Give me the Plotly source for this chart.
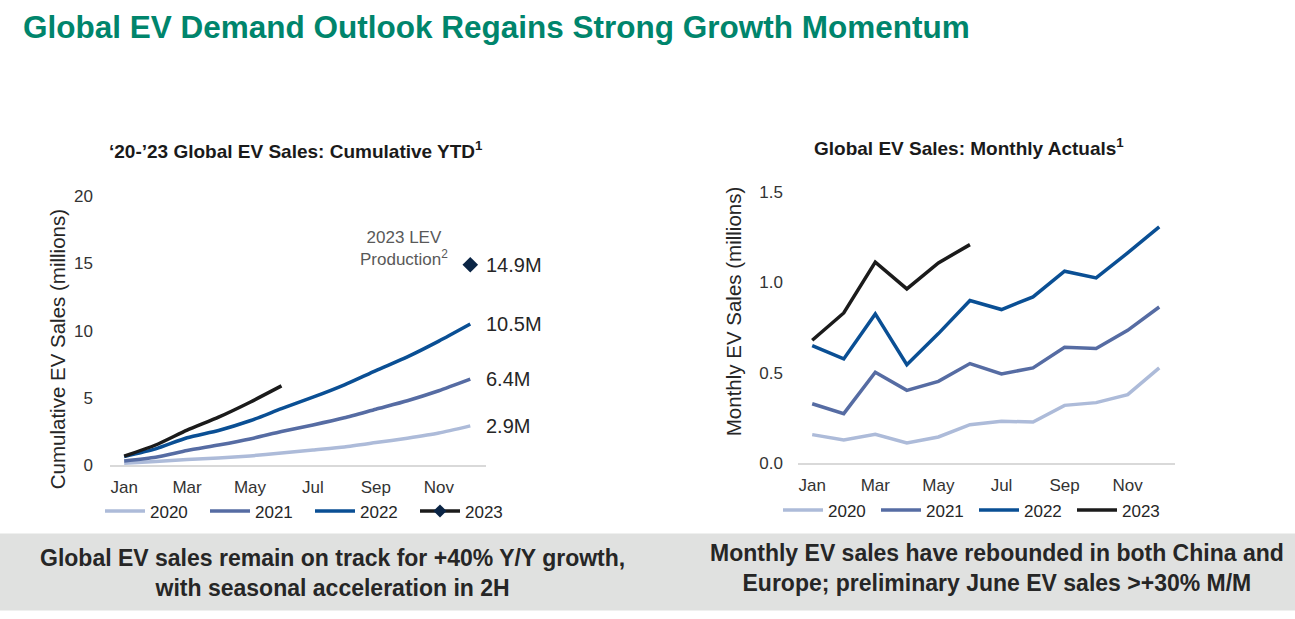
import plotly.graph_objects as go

MONTHS = ["Jan", "Feb", "Mar", "Apr", "May", "Jun",
          "Jul", "Aug", "Sep", "Oct", "Nov", "Dec"]
TICK_MONTHS = ["Jan", "Mar", "May", "Jul", "Sep", "Nov"]
YEARS = ["2020", "2021", "2022", "2023"]

# cumulative YTD sales, millions
CUM_2020 = [0.16, 0.28, 0.44, 0.55, 0.70, 0.91, 1.14, 1.37, 1.69, 2.02, 2.40, 2.93]
CUM_2021 = [0.33, 0.60, 1.10, 1.51, 1.96, 2.51, 3.00, 3.53, 4.17, 4.80, 5.54, 6.40]
CUM_2022 = [0.65, 1.22, 2.05, 2.59, 3.31, 4.21, 5.06, 5.98, 7.04, 8.06, 9.23, 10.5]
CUM_2023 = [0.68, 1.51, 2.62, 3.58, 4.69, 5.90]
LEV_2023 = 14.9  # 2023 LEV production, Dec

# monthly actuals, millions
MON_2020 = [0.157, 0.127, 0.159, 0.111, 0.144, 0.212, 0.231, 0.227, 0.319, 0.334, 0.378, 0.526]
MON_2021 = [0.328, 0.273, 0.502, 0.402, 0.452, 0.550, 0.493, 0.526, 0.640, 0.633, 0.734, 0.863]
MON_2022 = [0.649, 0.576, 0.825, 0.544, 0.716, 0.899, 0.849, 0.919, 1.061, 1.024, 1.162, 1.306]
MON_2023 = [0.679, 0.830, 1.111, 0.963, 1.107, 1.208]

COLORS = ["#adbbd9", "#566ca3", "#0a4f94", "#1b1b1b"]
DIAMOND = "#0b2545"
FONT = "Liberation Sans, Arial, sans-serif"
DARK = "#262626"
W, H = 1295, 619
# the page ends up drawn a little squeezed vertically; screen y = Y0 + SY * layout y
Y0, SY = 8, 0.9686


def px(x):
    return x / W


def py(y):
    return 1 - (y - Y0) / (SY * H)


fig = go.Figure()

# ---- left: cumulative ----------------------------------------------------
for year, vals, col in zip(YEARS, [CUM_2020, CUM_2021, CUM_2022, CUM_2023], COLORS):
    fig.add_trace(go.Scatter(
        x=MONTHS[:len(vals)], y=vals, mode="lines", name=year,
        line=dict(color=col, width=3.5, shape="spline", smoothing=0.6),
        showlegend=(year != "2023"), legend="legend", xaxis="x", yaxis="y"))
fig.add_trace(go.Scatter(
    x=[None], y=[None], mode="lines+markers", name="2023",
    line=dict(color=COLORS[3], width=3.5),
    marker=dict(symbol="diamond", size=10, color=DIAMOND),
    legend="legend", xaxis="x", yaxis="y"))
fig.add_trace(go.Scatter(
    x=["Dec"], y=[LEV_2023], mode="markers", showlegend=False,
    marker=dict(symbol="diamond", size=12, color=DIAMOND),
    xaxis="x", yaxis="y"))

# ---- right: monthly ------------------------------------------------------
for year, vals, col in zip(YEARS, [MON_2020, MON_2021, MON_2022, MON_2023], COLORS):
    fig.add_trace(go.Scatter(
        x=MONTHS[:len(vals)], y=vals, mode="lines", name=year,
        line=dict(color=col, width=3.5),
        legend="legend2", xaxis="x2", yaxis="y2"))

axis_font = dict(family=FONT, size=17, color="#333333")
xcommon = dict(type="category", categoryorder="array", categoryarray=MONTHS,
               tickmode="array", tickvals=TICK_MONTHS, range=[-0.45, 11.5],
               showgrid=False, zeroline=False, showline=True, linecolor="#d9d9d9",
               linewidth=1.5, ticks="", tickfont=axis_font, ticklabelstandoff=6,
               fixedrange=True)
ycommon = dict(showgrid=False, zeroline=False, showline=False, ticks="",
               tickfont=axis_font, fixedrange=True)
legend_common = dict(orientation="h", xanchor="left", yanchor="middle",
                     entrywidthmode="pixels", itemwidth=40,
                     bgcolor="rgba(0,0,0,0)", traceorder="normal",
                     font=dict(family=FONT, size=17, color=DARK))

fig.update_layout(
    width=W, height=H, margin=dict(l=0, r=0, t=0, b=0),
    paper_bgcolor="white", plot_bgcolor="white",
    font=dict(family=FONT, color=DARK),
    xaxis=dict(domain=[px(110), px(486)], anchor="y", **xcommon),
    yaxis=dict(domain=[py(464), py(195)], anchor="x", range=[0, 20],
               dtick=5, ticklabelstandoff=16, **ycommon),
    xaxis2=dict(domain=[px(798), px(1175)], anchor="y2", **xcommon),
    yaxis2=dict(domain=[py(461.7), py(190.7)], anchor="x2", range=[0, 1.5],
                dtick=0.5, tickformat=".1f", ticklabelstandoff=14, **ycommon),
    legend=dict(x=px(100), y=py(510), entrywidth=50, **legend_common),
    legend2=dict(x=px(778), y=py(509), entrywidth=43, **legend_common),
    showlegend=True,
)

# bottom caption band
fig.add_shape(type="rect", xref="paper", yref="paper",
              x0=0, x1=1, y0=py(609), y1=py(532),
              fillcolor="#e0e1e0", line_width=0, layer="below")

ann = []
ann.append(dict(text="<b>Global EV Demand Outlook Regains Strong Growth Momentum</b>",
                x=px(21), y=py(26), xanchor="left", yanchor="middle",
                font=dict(size=31.5, color="#00856c")))
ann.append(dict(text="<b>\u201820-\u201923 Global EV Sales: Cumulative YTD<sup>1</sup></b>",
                x=px(296), y=py(149), xanchor="center", yanchor="middle",
                font=dict(size=19, color="#1a1a1a")))
ann.append(dict(text="<b>Global EV Sales: Monthly Actuals<sup>1</sup></b>",
                x=px(969), y=py(146), xanchor="center", yanchor="middle",
                font=dict(size=19, color="#1a1a1a")))
ann.append(dict(text="Cumulative EV Sales (millions)", textangle=-90,
                x=px(57), y=py(348), xanchor="center", yanchor="middle",
                font=dict(size=20.5, color=DARK)))
ann.append(dict(text="Monthly EV Sales (millions)", textangle=-90,
                x=px(733), y=py(310), xanchor="center", yanchor="middle",
                font=dict(size=20.5, color=DARK)))
ann.append(dict(text="<b>Global EV sales remain on track for +40% Y/Y growth,<br>"
                     "with seasonal acceleration in 2H</b>",
                x=px(332), y=py(572), xanchor="center", yanchor="middle",
                font=dict(size=23, color=DARK)))
ann.append(dict(text="<b>Monthly EV sales have rebounded in both China and<br>"
                     "Europe; preliminary June EV sales >+30% M/M</b>",
                x=px(997), y=py(567), xanchor="center", yanchor="middle",
                font=dict(size=23, color=DARK)))
for a in ann:
    a.update(xref="paper", yref="paper", showarrow=False)

# end-of-year value labels on the cumulative chart
for v in [LEV_2023, CUM_2022[-1], CUM_2021[-1], CUM_2020[-1]]:
    ann.append(dict(text=f"{v:.1f}M", x="Dec", y=v, xref="x", yref="y",
                    xanchor="left", yanchor="middle", xshift=14, showarrow=False,
                    font=dict(size=20, color=DARK)))
ann.append(dict(text="2023 LEV<br>Production<sup>2</sup>", x="Oct", y=LEV_2023,
                xref="x", yref="y", xanchor="center", yanchor="bottom",
                xshift=-3, yshift=-6, showarrow=False,
                font=dict(size=17, color="#595959")))

fig.update_layout(annotations=ann)

fig.write_html(
    "out.html",
    config={"displayModeBar": False},
    post_script=(
        "document.body.style.margin='0';"
        "document.body.style.overflow='hidden';"))
